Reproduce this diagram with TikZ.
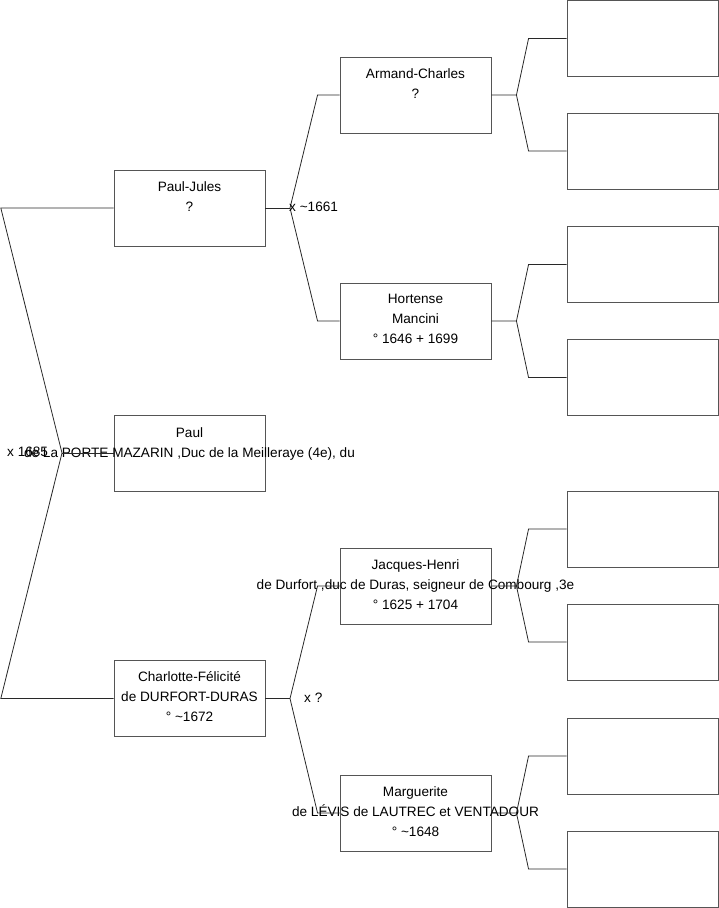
\documentclass[tikz,border=0pt]{standalone}
\usepackage{fontspec}
\setmainfont{Liberation Sans}
\usetikzlibrary{positioning,calc}
\definecolor{boxgray}{RGB}{85,85,85}
\definecolor{linkgray}{RGB}{40,40,40}

\tikzset{
  person/.style={draw=boxgray,line width=0.9pt,minimum width=151pt,minimum height=76pt,inner sep=0pt},
  who/.style={align=center,font=\fontsize{13.6}{20}\selectfont,inner sep=0pt},
  link/.style={line width=0.8pt,linkgray},
  wed/.style={anchor=west,font=\fontsize{13.6}{16}\selectfont,inner sep=0pt},
}

\begin{document}
\begin{tikzpicture}[x=1pt,y=-1pt]
    \useasboundingbox (0,0) rectangle (719,908);

    % children
    \node[person] (pj) at (189.5,208) {};
    \node[person] (pl) at (189.5,453) {};
    \node[person] (cf) at (189.5,698.5) {};
    \node[who,below=11.5pt of pj.north] {Paul-Jules\\?};
    \node[who,below=13pt of pl.north] {Paul\\de La PORTE MAZARIN ,Duc de la Meilleraye (4e), du};
    \node[who,below=11.5pt of cf.north] {Charlotte-Félicité\\de DURFORT-DURAS\\° \textasciitilde1672};

    % parents
    \node[person] (ac) at (415.5,95) {};
    \node[person] (hm) at (415.5,321) {};
    \node[person] (jh) at (415.5,586) {};
    \node[person] (mg) at (415.5,813) {};
    \node[who,below=11.5pt of ac.north] {Armand-Charles\\?};
    \node[who,below=11.5pt of hm.north] {Hortense\\Mancini\\° 1646 + 1699};
    \node[who,below=11.5pt of jh.north] {Jacques-Henri\\de Durfort ,duc de Duras, seigneur de Combourg ,3e\\° 1625 + 1704};
    \node[who,below=11.5pt of mg.north] {Marguerite\\de LÉVIS de LAUTREC et VENTADOUR\\° \textasciitilde1648};

    % grandparents (empty)
    \foreach \n/\y in {g1/38.5,g2/151,g3/264.5,g4/377.5,g5/529,g6/642,g7/756,g8/869}
        \node[person] (\n) at (642.5,\y) {};

    % left fan
    \coordinate (top) at (0.8,208);
    \coordinate (bot) at (0.8,698.5);
    \coordinate (v0) at (62,453);
    \draw[link] (pj.west) -- (top) -- (v0) -- (bot) -- (cf.west);
    \draw[link] (v0) -- (pl.west);
    \node[wed] (w0) at (7,452) {x 1685};

    % middle fans
    \coordinate (v1) at (290,208);
    \draw[link] (pj.east) -- (v1);
    \draw[link] (ac.west) -- ++(-22,0) -- (v1) -- ($(hm.west)+(-22,0)$) -- (hm.west);
    \node[wed] (w1) at (289,207) {x \textasciitilde1661};

    \coordinate (v2) at (290,698.5);
    \draw[link] (cf.east) -- (v2);
    \draw[link] (jh.west) -- ++(-22,0) -- (v2) -- ($(mg.west)+(-22,0)$) -- (mg.west);
    \node[wed] (w2) at (304,698) {x ?};

    % right fans
    \foreach \b/\u/\l in {ac/g1/g2,hm/g3/g4,jh/g5/g6,mg/g7/g8} {
        \draw[link] (\b.east) -- ++(25,0) coordinate (f)
            (\u.west) -- ++(-38,0) -- (f) -- ($(\l.west)+(-38,0)$) -- (\l.west);
    }
\end{tikzpicture}
\end{document}
